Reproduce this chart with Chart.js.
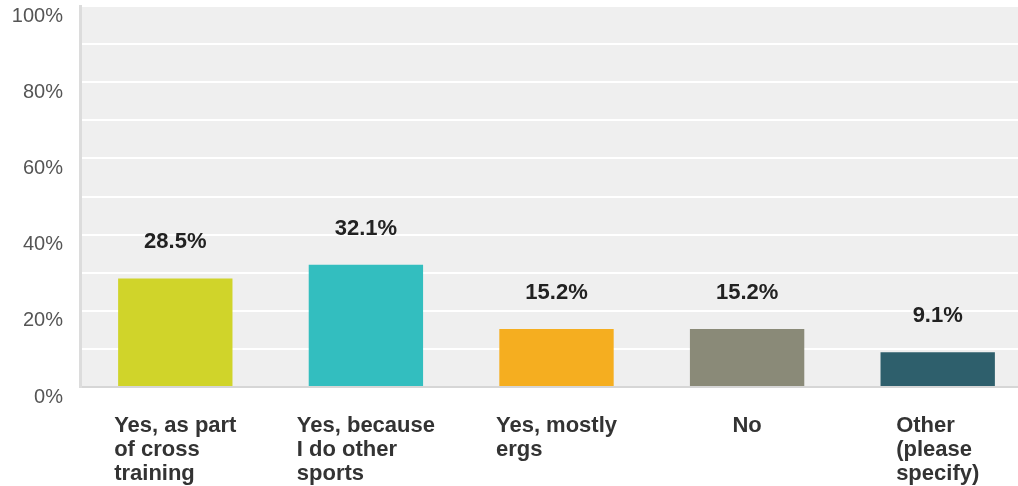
<!DOCTYPE html>
<html>
<head>
<meta charset="utf-8">
<script src="https://cdn.jsdelivr.net/npm/chart.js@4"></script>
<style>
  html, body { margin: 0; padding: 0; background: #fff; overflow: hidden; }
  #wrap { width: 1033px; height: 486px; position: relative; }
</style>
</head>
<body>
<div id="wrap"><canvas id="chartSurvey"></canvas></div>
<script>
const categories = [
    ['Yes, as part', 'of cross', 'training'],
    ['Yes, because', 'I do other', 'sports'],
    ['Yes, mostly', 'ergs'],
    ['No'],
    ['Other', '(please', 'specify)']
];
const percentages = [28.5, 32.1, 15.2, 15.2, 9.1];
const barColors = ['#d0d42a', '#33bebf', '#f5ae20', '#8a8a78', '#2e5f6c'];

// light grey plot background behind the grid
const plotBackground = {
    id: 'plotBackground',
    beforeDraw(chart) {
        const { ctx, chartArea: a } = chart;
        ctx.save();
        ctx.fillStyle = '#efefef';
        ctx.fillRect(a.left, a.top, a.right - a.left, a.bottom - a.top);
        ctx.restore();
    }
};

// value above each bar + category labels below (left-aligned block, centred on bar)
const barLabels = {
    id: 'barLabels',
    afterDraw(chart) {
        const ctx = chart.ctx;
        const meta = chart.getDatasetMeta(0);
        const xScale = chart.scales.x;
        ctx.save();
        ctx.font = 'bold 22px "Liberation Sans", Arial, sans-serif';
        ctx.fillStyle = '#222';
        ctx.textAlign = 'center';
        ctx.textBaseline = 'alphabetic';
        meta.data.forEach((bar, i) => {
            ctx.fillText(percentages[i].toFixed(1) + '%', bar.x, bar.y - 30);
        });

        ctx.fillStyle = '#333';
        ctx.textAlign = 'left';
        categories.forEach((lines, i) => {
            const cx = xScale.getPixelForValue(i);
            const w = Math.max(...lines.map(l => ctx.measureText(l).width));
            lines.forEach((line, j) => {
                ctx.fillText(line, cx - w / 2, chart.chartArea.bottom + 45 + j * 24);
            });
        });
        ctx.restore();
    }
};

new Chart(document.getElementById('chartSurvey'), {
    type: 'bar',
    data: {
        labels: categories.map(c => c.join(' ')),
        datasets: [{
            data: percentages,
            backgroundColor: barColors,
            borderWidth: 0,
            categoryPercentage: 1.0,
            barPercentage: 0.6
        }]
    },
    options: {
        responsive: true,
        maintainAspectRatio: false,
        animation: false,
        layout: { padding: { top: 6, bottom: 99, left: 0, right: 0 } },
        plugins: {
            legend: { display: false },
            tooltip: { enabled: false }
        },
        scales: {
            x: {
                afterFit(scale) {
                    scale.height = 0;
                    scale.paddingLeft = 0;
                    scale.paddingRight = 0;
                },
                grid: { display: false },
                border: { display: true, color: '#d6d6d6', width: 2 },
                ticks: { display: false }
            },
            y: {
                min: 0,
                max: 100,
                afterFit(scale) {
                    scale.width = 80;
                    scale.paddingTop = 0;
                    scale.paddingBottom = 0;
                },
                grid: { color: '#ffffff', lineWidth: 2, drawTicks: false },
                border: { display: true, color: '#dcdcdc', width: 3 },
                ticks: {
                    stepSize: 10,
                    padding: 17,
                    labelOffset: 10,
                    color: '#555',
                    font: { family: '"Liberation Sans", Arial, sans-serif', size: 20 },
                    callback: v => (v % 20 === 0 ? v + '%' : '')
                }
            }
        }
    },
    plugins: [plotBackground, barLabels]
});
</script>
</body>
</html>
